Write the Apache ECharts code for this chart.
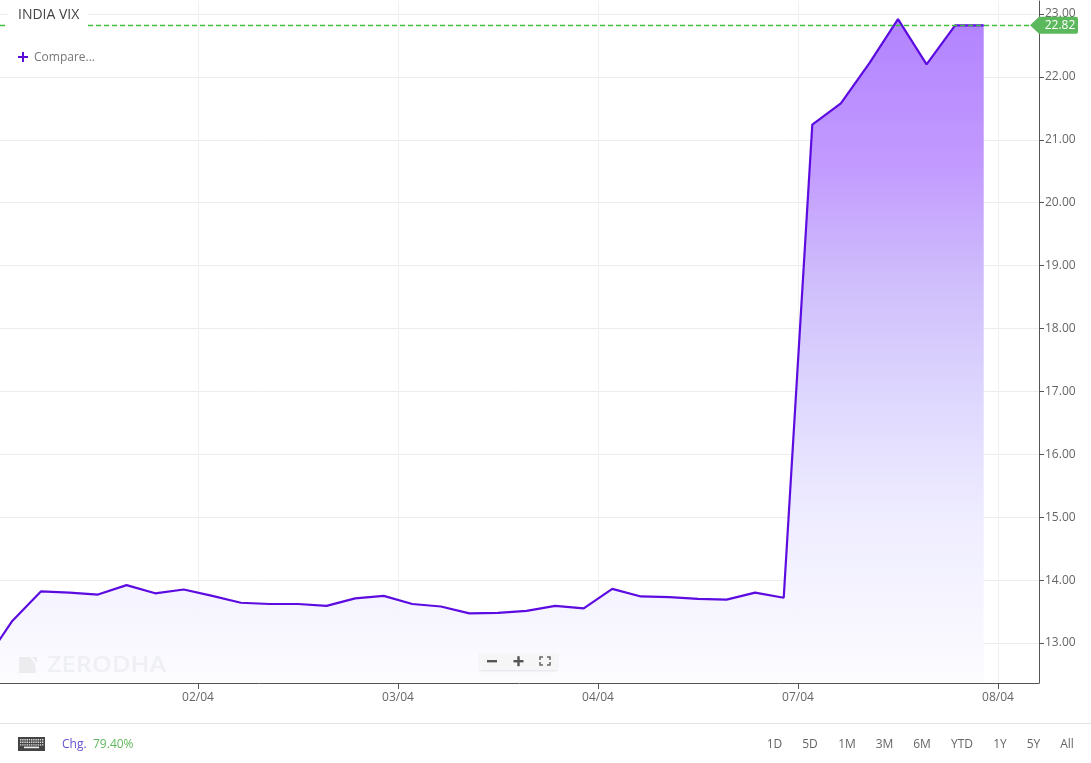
<!DOCTYPE html>
<html><head><meta charset="utf-8">
<style>html,body{margin:0;padding:0;background:#fff}#c{width:1091px;height:763px}</style>
<script src="https://cdn.jsdelivr.net/npm/echarts@6/dist/echarts.min.js"></script>
</head><body><div id="c"></div>
<script>
const FONT='"Open Sans"';
const sessionStep=[-7.5,-6.5,-5.5,-4.5,-3.5,-2.5,-1.5,-0.5,0.5,1.5,2.5,3.5,4.5,5.5,6.5,7.5,8.5,9.5,10.5,11.5,12.5,13.5,14.5,15.5,16.5,17.5,18.5,19.5,20.5,21.5,22.5,23.5,24.5,25.5,26.5,27.5];
const vixValues=[12.68,13.35,13.82,13.80,13.77,13.92,13.79,13.85,13.75,13.64,13.62,13.62,13.59,13.71,13.75,13.62,13.58,13.47,13.48,13.51,13.59,13.55,13.86,13.74,13.73,13.70,13.69,13.80,13.72,21.24,21.58,22.22,22.92,22.20,22.82,22.82];
const xTickPos=[0,7,14,21,28];
const xTickLabels=['02/04','03/04','04/04','07/04','08/04'];
const yTicks=[13,14,15,16,17,18,19,20,21,22,23];
const lastValue=22.82;
const periods=[['1D',774.5],['5D',810],['1M',847],['3M',884.5],['6M',922],['YTD',962],['1Y',1000],['5Y',1033.5],['All',1067]];

const g=[];
const txt=(text,x,y,size,fill,extra,el)=>g.push(Object.assign({type:'text',x,y,z:50,style:Object.assign({text,fill,font:size+'px '+FONT,textVerticalAlign:'middle'},extra||{})},el||{}));
g.push({type:'rect',z:40,shape:{x:8,y:4,width:80,height:26},style:{fill:'#fff'}});
txt('INDIA VIX',18,15.5,14,'#444');
g.push({type:'rect',z:50,shape:{x:18,y:56,width:10,height:2},style:{fill:'#5b0fd6'}});
g.push({type:'rect',z:50,shape:{x:22,y:52,width:2,height:10},style:{fill:'#5b0fd6'}});
txt('Compare...',34,57.5,12,'#777');
g.push({type:'polygon',z:50,shape:{points:[[19,657],[30,657],[35,664],[36,673],[19,673]]},style:{fill:'#ececef'}});
g.push({type:'polygon',z:50,shape:{points:[[32,657],[37,657],[37,663]]},style:{fill:'#ececef'}});
txt('ZERODHA',47,665.5,21,'#eff0f3',{font:'600 21.5px '+FONT},{scaleX:1.18});
g.push({type:'rect',z:49,shape:{x:480,y:652,width:77,height:18},style:{fill:'rgba(255,255,255,0.7)',shadowBlur:2,shadowColor:'rgba(0,0,0,0.15)',shadowOffsetY:1}});
g.push({type:'rect',z:50,shape:{x:487,y:660,width:10,height:2.4},style:{fill:'#555'}});
g.push({type:'rect',z:50,shape:{x:513.5,y:660,width:10,height:2.4},style:{fill:'#555'}});
g.push({type:'rect',z:50,shape:{x:517.3,y:656.2,width:2.4,height:10},style:{fill:'#555'}});
[[540,657,3,0,0,3],[550,657,-3,0,0,3],[540,665,3,0,0,-3],[550,665,-3,0,0,-3]].forEach(a=>{
  g.push({type:'polyline',z:50,shape:{points:[[a[0]+a[2],a[1]],[a[0],a[1]],[a[0],a[1]+a[5]]]},style:{stroke:'#666',fill:null,lineWidth:1.5}});
});
g.push({type:'rect',z:30,shape:{x:0,y:723,width:1091,height:1},style:{fill:'#e2e2e2'}});
g.push({type:'rect',z:50,shape:{x:18,y:737,width:27,height:14},style:{fill:'#444'}});
for(let r=0;r<3;r++)for(let c=0;c<11;c++){g.push({type:'rect',z:51,shape:{x:20+c*2.2,y:739+r*2.6,width:1.4,height:1.4},style:{fill:'#ddd'}});}
g.push({type:'rect',z:52,shape:{x:24,y:746.6,width:15,height:1.6},style:{fill:'#eee'}});
txt('Chg.',62,745,12,'#6a4fd0');
txt('79.40%',93,745,12,'#5fb85a');
periods.forEach(p=>txt(p[0],p[1],745,12,'#666',{textAlign:'center'}));

const chart=echarts.init(document.getElementById('c'),null,{renderer:'canvas'});
chart.setOption({
  animation:false,
  textStyle:{fontFamily:FONT},
  grid:{left:0,right:52,top:1,bottom:80,containLabel:false},
  xAxis:{type:'value',min:-6.93,max:29.435,
    axisLine:{onZero:false,lineStyle:{color:'#555',width:1}},
    axisTick:{show:true,length:6,customValues:xTickPos,lineStyle:{color:'#555'}},
    axisLabel:{customValues:xTickPos,margin:9,color:'#666',fontSize:12,fontFamily:FONT,formatter:v=>xTickLabels[xTickPos.indexOf(v)]||''},
    splitLine:{show:true,lineStyle:{color:'#f0f0f3',width:1}}},
  yAxis:{type:'value',position:'right',min:12.364,max:23.207,
    axisLine:{show:true,onZero:false,lineStyle:{color:'#555',width:1}},
    axisTick:{show:true,length:5,customValues:yTicks,lineStyle:{color:'#555'}},
    axisLabel:{customValues:yTicks,margin:6,color:'#666',fontSize:12,fontFamily:FONT,formatter:v=>v.toFixed(2)},
    splitLine:{show:true,lineStyle:{color:'#ececec',width:1}}},
  series:[{type:'line',symbol:'none',smooth:false,
    data:sessionStep.map((x,i)=>[x,vixValues[i]]),
    lineStyle:{color:'#5c0be0',width:2.2},
    areaStyle:{opacity:1,origin:'start',color:new echarts.graphic.LinearGradient(0,0,0,1,[
      {offset:0,color:'rgba(176,127,255,0.97)'},
      {offset:0.22,color:'rgba(191,149,255,0.95)'},
      {offset:0.39,color:'rgba(203,184,251,0.93)'},
      {offset:0.58,color:'rgba(220,214,254,0.93)'},
      {offset:0.76,color:'rgba(238,236,255,0.93)'},
      {offset:1,color:'rgba(252,252,255,0.93)'}])},
    markLine:{silent:true,symbol:'none',animation:false,label:{show:false},
      lineStyle:{color:'#3fbf3a',type:[5,3],width:1.4},data:[{yAxis:lastValue}]},
    markPoint:{silent:true,animation:false,
      data:[{coord:[29.435,lastValue],symbol:'path://M0 8.5 L9 0 H46 Q48 0 48 2 V15 Q48 17 46 17 H9 Z',symbolSize:[48,17],symbolOffset:[15,0],
        itemStyle:{color:'#5cb85c'},
        label:{show:true,position:'inside',offset:[6,0],formatter:lastValue.toFixed(2),color:'#fff',fontSize:12,fontFamily:FONT}}]}
  }],
  graphic:g
});
</script></body></html>
